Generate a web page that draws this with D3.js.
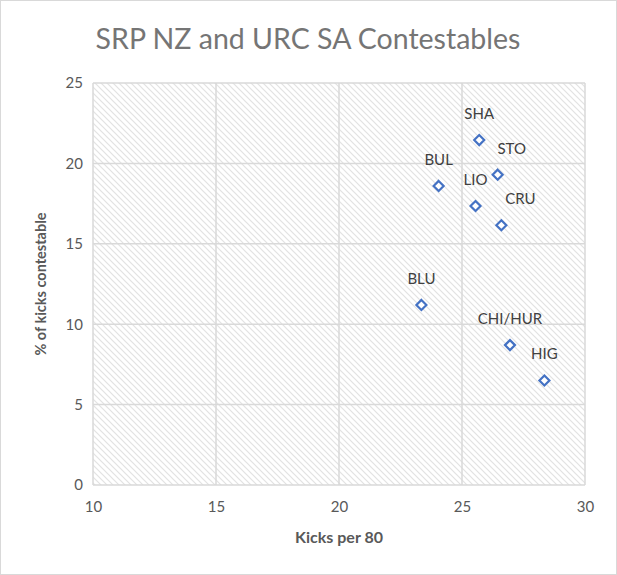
<!DOCTYPE html>
<html>
<head>
<meta charset="utf-8">
<script src="https://cdn.jsdelivr.net/npm/d3@7"></script>
<style>
  html, body { margin: 0; padding: 0; background: #fff; }
  svg { display: block; }
  text { font-family: Lato, "Open Sans", sans-serif; }
</style>
</head>
<body>
<div id="chart"></div>
<script>
// Team data: kicks per 80 vs % contestable
const teams = ['SHA', 'STO', 'BUL', 'LIO', 'CRU', 'BLU', 'CHI/HUR', 'HIG'];
const kicksPer80 = [25.7, 26.45, 24.05, 25.55, 26.6, 23.35, 26.95, 28.35];
const pctContestable = [21.45, 19.3, 18.6, 17.35, 16.15, 11.2, 8.7, 6.5];
const xTicks = [10, 15, 20, 25, 30];
const yTicks = [0, 5, 10, 15, 20, 25];

const W = 617, H = 575;
const margin = { left: 93, right: 32, top: 83, bottom: 90 };
const grey = '#595959';

const svg = d3.select('#chart').append('svg')
  .attr('width', W).attr('height', H);

// outer chart border
svg.append('rect')
  .attr('x', 0.5).attr('y', 0.5)
  .attr('width', W - 1).attr('height', H - 1)
  .attr('fill', '#fff').attr('stroke', '#d9d9d9');

// hatch pattern for plot area
const pat = svg.append('defs').append('pattern')
  .attr('id', 'hatch').attr('patternUnits', 'userSpaceOnUse')
  .attr('width', 6).attr('height', 6);
pat.append('rect').attr('width', 6).attr('height', 6).attr('fill', '#fff');
pat.append('path')
  .attr('d', 'M-1,-1 L7,7 M-1,5 L1,7 M5,-1 L7,1')
  .attr('stroke', '#e2e2e2').attr('stroke-width', 1.2);

const x = d3.scaleLinear().domain([10, 30]).range([margin.left, W - margin.right]);
const y = d3.scaleLinear().domain([0, 25]).range([H - margin.bottom, margin.top]);

svg.append('rect')
  .attr('x', x(10)).attr('y', y(25))
  .attr('width', x(30) - x(10)).attr('height', y(0) - y(25))
  .attr('fill', 'url(#hatch)');

// gridlines
const grid = svg.append('g').attr('stroke', '#d9d9d9').attr('stroke-width', 1.5);
grid.selectAll('.gx').data(xTicks).join('line')
  .attr('x1', d => x(d)).attr('x2', d => x(d))
  .attr('y1', y(0)).attr('y2', y(25));
grid.selectAll('.gy').data(yTicks).join('line')
  .attr('x1', x(10)).attr('x2', x(30))
  .attr('y1', d => y(d)).attr('y2', d => y(d));

// axes (labels only, Excel style)
const xAxis = svg.append('g')
  .attr('transform', `translate(0,${y(0) + 12})`)
  .call(d3.axisBottom(x).tickValues(xTicks).tickSize(0).tickPadding(4));
const yAxis = svg.append('g')
  .attr('transform', `translate(${x(10) - 10},0)`)
  .call(d3.axisLeft(y).tickValues(yTicks).tickSize(0).tickPadding(0));
[xAxis, yAxis].forEach(a => {
  a.select('.domain').remove();
  a.selectAll('text')
    .attr('fill', grey).style('font-size', '15px')
    .style('font-family', 'Lato, "Open Sans", sans-serif');
});

// title
svg.append('text')
  .attr('x', 308).attr('y', 49)
  .attr('text-anchor', 'middle')
  .attr('fill', '#757575').style('font-size', '28.5px')
  .text('SRP NZ and URC SA Contestables');

// axis titles
svg.append('text')
  .attr('x', x(20)).attr('y', 543)
  .attr('text-anchor', 'middle')
  .attr('fill', grey).style('font-size', '16px').style('font-weight', 'bold')
  .text('Kicks per 80');
svg.append('text')
  .attr('transform', `translate(46,${y(12.5)}) rotate(-90)`)
  .attr('text-anchor', 'middle')
  .attr('fill', grey).style('font-size', '14.5px').style('font-weight', 'bold')
  .text('% of kicks contestable');

// points
const pts = teams.map((t, i) => ({ name: t, kx: kicksPer80[i], pc: pctContestable[i] }));
const r = 5;
svg.append('g').selectAll('path').data(pts).join('path')
  .attr('transform', d => `translate(${x(d.kx)},${y(d.pc)})`)
  .attr('d', `M0,${-r} L${r},0 L0,${r} L${-r},0 Z`)
  .attr('fill', '#fff').attr('stroke', '#4472c4').attr('stroke-width', 2.2);

// labels sit above each marker; a couple are nudged right as in the original
const nudge = { STO: 14, CRU: 19 };
svg.append('g').selectAll('text').data(pts).join('text')
  .attr('x', d => x(d.kx) + (nudge[d.name] || 0))
  .attr('y', d => y(d.pc) - 21)
  .attr('text-anchor', 'middle')
  .attr('fill', '#404040').style('font-size', '15px')
  .text(d => d.name);
</script>
</body>
</html>
